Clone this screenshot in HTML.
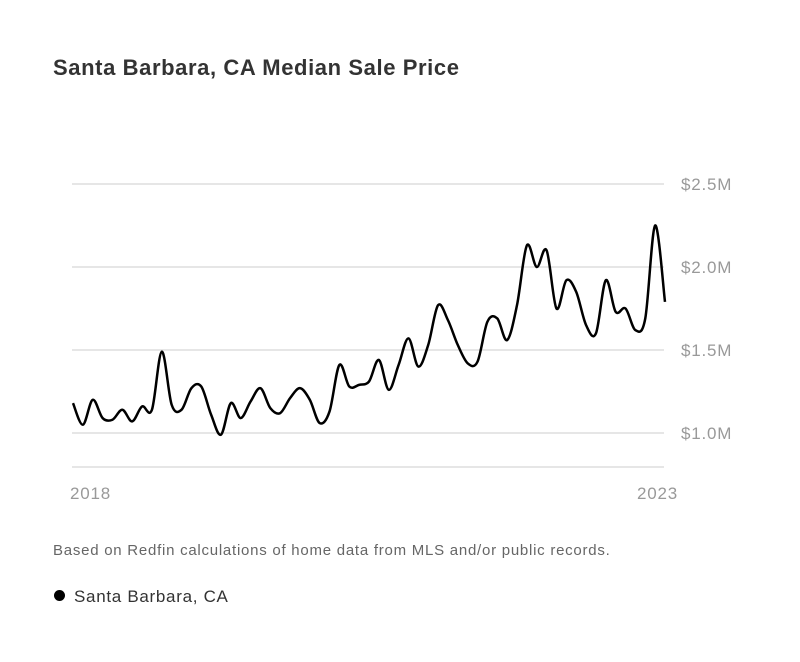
<!DOCTYPE html>
<html><head><meta charset="utf-8"><style>
body{margin:0;background:#fff;font-family:"Liberation Sans",sans-serif;}
#wrap{position:relative;width:800px;height:662px;overflow:hidden;}
.t{position:absolute;white-space:nowrap;}
</style></head><body>
<div id="wrap">
<div class="t" style="left:53px;top:55px;font-size:22px;letter-spacing:0.6px;font-weight:bold;color:#333;">Santa Barbara, CA Median Sale Price</div>
<svg id="chart" width="800" height="520" style="position:absolute;left:0;top:0"></svg>
<div class="t" style="left:53px;top:542px;font-size:15px;letter-spacing:0.75px;color:#666;">Based on Redfin calculations of home data from MLS and/or public records.</div>
<div style="position:absolute;left:54px;top:590px;width:11px;height:11px;border-radius:50%;background:#000;"></div>
<div class="t" style="left:74px;top:587px;font-size:17px;letter-spacing:0.7px;color:#333;">Santa Barbara, CA</div>
</div>
<script>
const values=[1.18,1.05,1.20,1.09,1.08,1.14,1.07,1.16,1.14,1.49,1.17,1.14,1.27,1.28,1.11,0.99,1.18,1.09,1.19,1.27,1.15,1.12,1.21,1.27,1.20,1.06,1.13,1.41,1.28,1.29,1.31,1.44,1.26,1.41,1.57,1.40,1.53,1.77,1.68,1.53,1.42,1.43,1.67,1.69,1.56,1.77,2.13,2.00,2.10,1.75,1.92,1.85,1.65,1.60,1.92,1.73,1.75,1.62,1.69,2.25,1.79];
const yTicks=[1.0,1.5,2.0,2.5];
const yTickLabels=["$1.0M","$1.5M","$2.0M","$2.5M"];
const xLabels=["2018","2023"];
const NS="http://www.w3.org/2000/svg";
const svg=document.getElementById('chart');
const x0=73,x1=665;
function xs(i){return x0+(x1-x0)*i/(values.length-1);}
function ys(v){return 433-(v-1.0)*166;}
function mk(t,a){const e=document.createElementNS(NS,t);for(const k in a)e.setAttribute(k,a[k]);svg.appendChild(e);return e;}
yTicks.forEach((v,i)=>{
 const l=mk('line',{x1:72,x2:664,y1:ys(v),y2:ys(v),stroke:'#e6e6e6','stroke-width':2});
 
 
 const t=mk('text',{x:681,y:ys(v)+6,'font-size':17,'letter-spacing':0.8,fill:'#999','font-family':'Liberation Sans, sans-serif'});
 t.textContent=yTickLabels[i];
 
 
});
const base=mk('line',{x1:72,x2:664,y1:467,y2:467,stroke:'#e6e6e6','stroke-width':2});


[[70,'start'],[678,'end']].forEach((p,i)=>{
 const t=mk('text',{x:p[0],y:499,'font-size':17,'letter-spacing':0.8,fill:'#999','text-anchor':p[1],'font-family':'Liberation Sans, sans-serif'});
 t.textContent=xLabels[i];
 
 
});
const pts=values.map((v,i)=>[xs(i),ys(v)]);
let d='M'+pts[0][0]+','+pts[0][1];
for(let i=0;i<pts.length-1;i++){
 const p0=pts[Math.max(0,i-1)],p1=pts[i],p2=pts[i+1],p3=pts[Math.min(pts.length-1,i+2)];
 const c1=[p1[0]+(p2[0]-p0[0])/6,p1[1]+(p2[1]-p0[1])/6];
 const c2=[p2[0]-(p3[0]-p1[0])/6,p2[1]-(p3[1]-p1[1])/6];
 d+=' C'+c1[0]+','+c1[1]+' '+c2[0]+','+c2[1]+' '+p2[0]+','+p2[1];
}
const path=mk('path',{d:d,fill:'none',stroke:'#000','stroke-width':2.5,'stroke-linejoin':'round'});


</script>
</body></html>
